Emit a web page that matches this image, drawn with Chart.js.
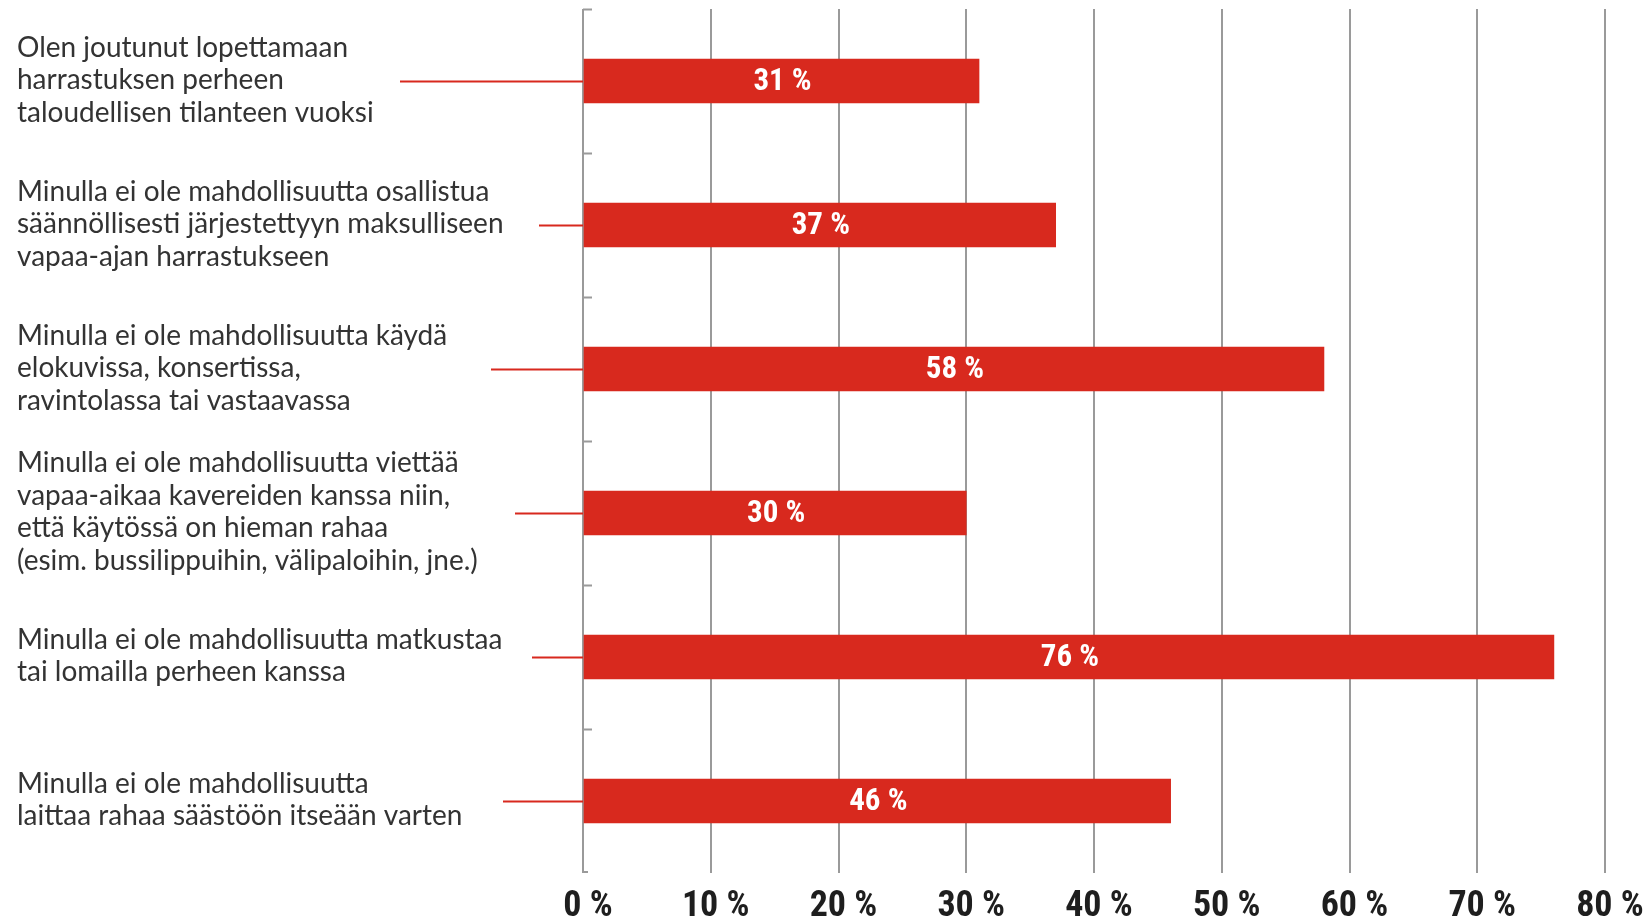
<!DOCTYPE html>
<html><head><meta charset="utf-8">
<script src="https://cdn.jsdelivr.net/npm/chart.js@4.4.1/dist/chart.umd.min.js"></script>
<style>html,body{margin:0;padding:0;background:#fff}#wrap{width:1652px;height:922px;position:relative}</style>
</head><body><div id="wrap"><canvas id="c" width="1652" height="922"></canvas></div>
<script>
// ---- data ----
const categories = [
  ["Olen joutunut lopettamaan", "harrastuksen perheen", "taloudellisen tilanteen vuoksi"],
  ["Minulla ei ole mahdollisuutta osallistua", "säännöllisesti järjestettyyn maksulliseen", "vapaa-ajan harrastukseen"],
  ["Minulla ei ole mahdollisuutta käydä", "elokuvissa, konsertissa,", "ravintolassa tai vastaavassa"],
  ["Minulla ei ole mahdollisuutta viettää", "vapaa-aikaa kavereiden kanssa niin,", "että käytössä on hieman rahaa", "(esim. bussilippuihin, välipaloihin, jne.)"],
  ["Minulla ei ole mahdollisuutta matkustaa", "tai lomailla perheen kanssa"],
  ["Minulla ei ole mahdollisuutta", "laittaa rahaa säästöön itseään varten"]
];
const values = [31, 37, 58, 30, 76, 46];
const tickValues = [0, 10, 20, 30, 40, 50, 60, 70, 80];
const tickLabels = ["0 %", "10 %", "20 %", "30 %", "40 %", "50 %", "60 %", "70 %", "80 %"];

// ---- styles ----
const RED = '#d8291e';
const GRID = '#9a9a9a';
const NUM_FONT = "'Roboto Condensed', 'Liberation Sans Narrow', sans-serif";
const LABEL_FONT = "Lato, 'Open Sans', sans-serif";
const leaderStart = [400, 539, 491, 515, 532, 503];

const decorPlugin = {
  id: 'decor',
  afterDatasetsDraw(chart) {
    const ctx = chart.ctx;
    const meta = chart.getDatasetMeta(0);
    const x = chart.scales.x, y = chart.scales.y;
    const x0 = x.getPixelForValue(0);
    ctx.save();
    // bar value labels
    ctx.fillStyle = '#ffffff';
    ctx.font = "bold 31px " + NUM_FONT;
    ctx.textAlign = 'center';
    ctx.textBaseline = 'middle';
    meta.data.forEach((bar, i) => {
      const cx = (bar.base + bar.x) / 2;
      ctx.fillText(values[i] + ' %', cx + 1, bar.y + 1);
    });
    // axis ticks (inward) at category boundaries
    ctx.strokeStyle = GRID;
    ctx.lineWidth = 2;
    const top = chart.chartArea.top, bottom = chart.chartArea.bottom;
    const step = (bottom - top) / categories.length;
    ctx.beginPath();
    for (let i = 0; i < categories.length; i++) {
      const yy = Math.round(top + i * step) + 0.5;
      ctx.moveTo(x0, yy); ctx.lineTo(x0 + 9, yy);
    }
    ctx.moveTo(x0, bottom - 1); ctx.lineTo(x0 + 5, bottom - 1);
    ctx.stroke();
    // leader lines and category labels
    ctx.strokeStyle = RED;
    ctx.lineWidth = 2;
    ctx.fillStyle = '#333333';
    ctx.font = "28px " + LABEL_FONT;
    ctx.textAlign = 'left';
    ctx.textBaseline = 'middle';
    const lh = 32.5;
    categories.forEach((lines, i) => {
      const cy = y.getPixelForValue(i);
      ctx.beginPath();
      ctx.moveTo(leaderStart[i], Math.round(cy) + 0.5);
      ctx.lineTo(x0, Math.round(cy) + 0.5);
      ctx.stroke();
      const startY = cy - (lines.length - 1) * lh / 2;
      lines.forEach((t, j) => ctx.fillText(t, 17, startY + j * lh - 1));
    });
    ctx.restore();
  }
};

new Chart(document.getElementById('c'), {
  type: 'bar',
  data: {
    labels: categories.map((c, i) => i),
    datasets: [{
      data: values,
      backgroundColor: RED,
      borderWidth: 0,
      barThickness: 44
    }]
  },
  options: {
    indexAxis: 'y',
    responsive: false,
    animation: false,
    devicePixelRatio: 1,
    layout: { padding: { left: 583, right: 47, top: 9, bottom: 0 } },
    plugins: { legend: { display: false }, tooltip: { enabled: false } },
    scales: {
      y: { display: false, offset: true },
      x: {
        min: 0, max: 80,
        afterBuildTicks(scale) { scale.ticks = tickValues.map(v => ({ value: v })); },
        afterFit(scale) { scale.height = 49; },
        border: { display: false },
        grid: { color: GRID, lineWidth: 2, drawTicks: false },
        ticks: {
          callback: (v) => tickLabels[tickValues.indexOf(v)],
          color: '#1e1e1e',
          font: { family: NUM_FONT, size: 36, weight: 'bold' },
          padding: 12,
          labelOffset: 5,
          maxRotation: 0,
          autoSkip: false
        }
      }
    }
  },
  plugins: [decorPlugin]
});
</script></body></html>
